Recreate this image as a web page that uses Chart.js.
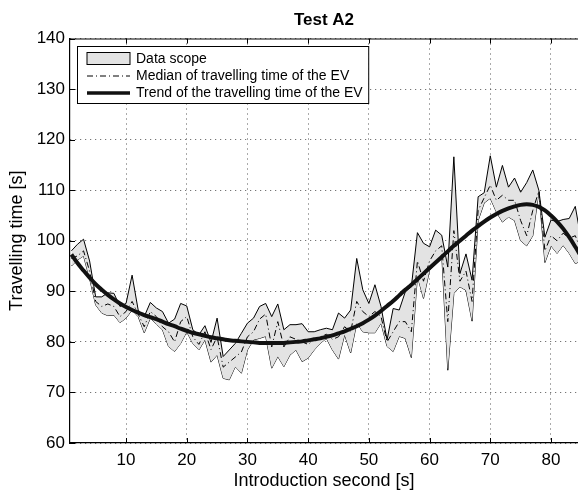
<!DOCTYPE html>
<html>
<head>
<meta charset="utf-8">
<script src="https://cdn.jsdelivr.net/npm/chart.js@4/dist/chart.umd.min.js"></script>
<style>
  html, body { margin: 0; padding: 0; background: #fff; overflow: hidden; }
  #wrap { width: 578px; height: 493px; position: relative; }
</style>
</head>
<body>
<div id="wrap"><canvas id="chartA2"></canvas></div>
<script>
// introduction second [s]
const segundos = [1, 2, 3, 4, 5, 6, 7, 8, 9, 10, 11, 12, 13, 14, 15, 16, 17, 18, 19, 20,
  21, 22, 23, 24, 25, 26, 27, 28, 29, 30, 31, 32, 33, 34, 35, 36, 37, 38, 39, 40,
  41, 42, 43, 44, 45, 46, 47, 48, 49, 50, 51, 52, 53, 54, 55, 56, 57, 58, 59, 60,
  61, 62, 63, 64, 65, 66, 67, 68, 69, 70, 71, 72, 73, 74, 75, 76, 77, 78, 79, 80,
  81, 82, 83, 84, 85];

// upper edge of data scope
const maximo = [98.0, 99.3, 100.3, 96.0, 88.9, 88.9, 89.7, 89.6, 87.0, 87.6,
  93.2, 86.3, 85.0, 87.8, 86.7, 86.0, 83.7, 84.5, 87.6, 87.1,
  82.4, 81.4, 83.2, 79.9, 84.7, 77.1, 78.4, 79.7, 81.7, 83.7,
  84.7, 87.0, 87.6, 85.0, 87.5, 82.4, 83.4, 83.4, 83.6, 82.0,
  82.0, 82.4, 82.7, 82.4, 85.7, 84.7, 86.3, 96.5, 90.3, 87.6,
  91.3, 87.0, 80.4, 86.6, 86.3, 89.9, 90.9, 101.6, 99.5, 98.8,
  102.1, 101.1, 94.8, 116.6, 93.5, 97.4, 92.2, 108.7, 109.5, 116.8,
  110.6, 114.9, 110.6, 112.4, 109.6, 111.5, 114.0, 110.0, 100.7, 104.1,
  103.8, 104.2, 104.4, 106.8, 100.0];

// lower edge of data scope
const minimo = [95.0, 96.2, 97.0, 92.5, 87.3, 85.7, 85.2, 85.3, 83.8, 84.7,
  86.3, 85.0, 81.8, 84.7, 83.5, 82.4, 79.1, 78.1, 79.7, 82.0,
  79.7, 78.4, 80.4, 76.0, 77.4, 72.8, 72.5, 75.1, 73.8, 78.4,
  80.4, 80.7, 81.1, 74.8, 77.1, 75.1, 77.4, 78.4, 76.1, 76.8,
  78.4, 79.7, 80.7, 78.4, 76.6, 81.4, 77.8, 83.7, 82.0, 81.8,
  81.8, 83.7, 79.1, 78.1, 81.1, 80.7, 76.9, 93.0, 88.6, 94.2,
  95.5, 97.4, 74.4, 89.6, 90.9, 90.2, 84.1, 104.0, 107.5, 108.4,
  105.7, 103.7, 104.7, 104.0, 100.0, 99.0, 101.0, 109.7, 95.7, 99.0,
  97.5, 99.1, 97.5, 95.5, 96.0];

// median of travelling time of the EV
const mediana = [96.5, 97.0, 98.0, 94.0, 88.0, 87.0, 87.5, 87.0, 85.0, 86.0,
  88.0, 85.5, 83.0, 86.0, 85.0, 83.0, 82.0, 80.0, 84.0, 85.0,
  81.0, 79.5, 82.0, 78.5, 81.0, 75.0, 76.0, 77.0, 78.0, 81.0,
  82.0, 84.5, 85.5, 79.0, 84.0, 79.0, 81.0, 80.5, 80.0, 79.5,
  80.5, 81.0, 81.5, 80.5, 81.0, 83.0, 82.0, 88.0, 86.0, 85.0,
  86.0, 85.0, 80.0, 82.0, 84.0, 84.0, 82.0, 96.0, 92.0, 96.0,
  98.0, 99.0, 84.0, 102.0, 92.0, 94.0, 88.0, 106.0, 108.5, 111.0,
  108.0, 109.0, 108.0, 108.0, 104.0, 101.0, 106.0, 109.8, 98.0, 101.0,
  100.0, 101.5, 100.5, 101.0, 98.0];

// trend of the travelling time of the EV
const tendencia = [97.3, 95.6, 94.1, 92.7, 91.4, 90.3, 89.3, 88.4, 87.6, 86.9,
  86.3, 85.8, 85.3, 84.9, 84.5, 84.0, 83.5, 83.1, 82.6, 82.2,
  81.8, 81.5, 81.2, 80.9, 80.7, 80.5, 80.3, 80.2, 80.1, 80.0,
  79.9, 79.8, 79.8, 79.8, 79.8, 79.8, 79.9, 80.0, 80.1, 80.3,
  80.5, 80.7, 81.0, 81.3, 81.7, 82.1, 82.6, 83.1, 83.7, 84.4,
  85.2, 86.1, 87.1, 88.1, 89.2, 90.3, 91.3, 92.4, 93.5, 94.6,
  95.7, 96.8, 97.9, 99.0, 100.0, 101.0, 102.0, 102.9, 103.8, 104.6,
  105.3, 105.9, 106.4, 106.8, 107.1, 107.2, 107.1, 106.7, 106.0, 105.0,
  103.8, 102.4, 100.7, 98.8, 96.8];

const ticksX = [10, 20, 30, 40, 50, 60, 70, 80];

const FUENTE = '"Liberation Sans", Arial, Helvetica, sans-serif';

const puntos = serie => serie.map((v, i) => ({ x: segundos[i], y: v }));

// marco, ticks internos, titulos y leyenda
const decoraciones = {
    id: 'decoraciones',
    beforeDatasetsDraw(chart) {
        const { ctx, chartArea: a } = chart;
        ctx.save();
        ctx.strokeStyle = '#000';
        ctx.lineWidth = 1;
        ctx.beginPath();
        ctx.moveTo(a.left, a.top + 0.5);
        ctx.lineTo(a.right, a.top + 0.5);
        ctx.stroke();
        // inner ticks
        const sx = chart.scales.x, sy = chart.scales.y;
        ctx.beginPath();
        ticksX.forEach(t => {
            const px = Math.round(sx.getPixelForValue(t)) + 0.5;
            ctx.moveTo(px, a.bottom); ctx.lineTo(px, a.bottom - 5);
            ctx.moveTo(px, a.top); ctx.lineTo(px, a.top + 5);
        });
        sy.ticks.forEach(t => {
            const py = Math.round(sy.getPixelForValue(t.value)) + 0.5;
            ctx.moveTo(a.left, py); ctx.lineTo(a.left + 5, py);
        });
        ctx.stroke();
        ctx.restore();
    },
    afterDraw(chart) {
        const { ctx, chartArea: a } = chart;
        const cx = (a.left + a.right) / 2;
        ctx.save();
        ctx.fillStyle = '#000';
        ctx.textAlign = 'center';
        ctx.textBaseline = 'middle';
        ctx.font = 'bold 17px ' + FUENTE;
        ctx.fillText('Test A2', cx, 20);
        ctx.font = '18px ' + FUENTE;
        ctx.fillText('Introduction second [s]', cx, 481);
        ctx.translate(17, (a.top + a.bottom) / 2);
        ctx.rotate(-Math.PI / 2);
        ctx.fillText('Travelling time [s]', 0, 0);
        ctx.restore();

        // leyenda
        const etiquetas = ['Data scope', 'Median of travelling time of the EV', 'Trend of the travelling time of the EV'];
        ctx.save();
        ctx.font = '14px ' + FUENTE;
        const anchoTexto = Math.max(...etiquetas.map(t => ctx.measureText(t).width));
        const bx = 77.5, by = 46.5, bh = 57;
        const bw = 136 - bx + anchoTexto + 6;
        ctx.fillStyle = '#fff';
        ctx.fillRect(bx, by, bw, bh);
        ctx.strokeStyle = '#000';
        ctx.lineWidth = 1;
        ctx.strokeRect(bx, by, bw, bh);

        const filas = [59, 76, 93];
        // caja gris
        ctx.fillStyle = '#e3e3e3';
        ctx.fillRect(87, 52.5, 43, 12);
        ctx.strokeRect(87, 52.5, 43, 12);
        // dash-dot
        ctx.beginPath();
        ctx.setLineDash([6, 3, 1, 3]);
        ctx.moveTo(87, filas[1]); ctx.lineTo(130, filas[1]);
        ctx.stroke();
        ctx.setLineDash([]);
        // linea gruesa
        ctx.beginPath();
        ctx.lineWidth = 3.5;
        ctx.strokeStyle = '#111';
        ctx.moveTo(87, filas[2]); ctx.lineTo(130, filas[2]);
        ctx.stroke();

        ctx.fillStyle = '#000';
        ctx.textAlign = 'left';
        ctx.textBaseline = 'middle';
        etiquetas.forEach((t, i) => ctx.fillText(t, 136, filas[i]));
        ctx.restore();
    }
};

document.addEventListener('DOMContentLoaded', () => {
    const ctx = document.getElementById('chartA2').getContext('2d');

    new Chart(ctx, {
        type: 'line',
        data: {
            datasets: [
                {
                    label: 'Trend of the travelling time of the EV',
                    data: puntos(tendencia),
                    borderColor: '#111',
                    borderWidth: 4,
                    pointRadius: 0,
                    tension: 0.4,
                    fill: false,
                    order: 0
                },
                {
                    label: 'Median of travelling time of the EV',
                    data: puntos(mediana),
                    borderColor: '#000',
                    borderWidth: 1,
                    borderDash: [6, 3, 1, 3],
                    pointRadius: 0,
                    tension: 0,
                    fill: false,
                    order: 1
                },
                {
                    label: 'Data scope',
                    data: puntos(maximo),
                    borderColor: '#000',
                    borderWidth: 1,
                    backgroundColor: '#e3e3e3',
                    pointRadius: 0,
                    tension: 0,
                    fill: '+1',
                    order: 2
                },
                {
                    label: 'Data scope (min)',
                    data: puntos(minimo),
                    borderColor: '#000',
                    borderWidth: 1,
                    pointRadius: 0,
                    tension: 0,
                    fill: false,
                    order: 3
                }
            ]
        },
        options: {
            responsive: true,
            maintainAspectRatio: false,
            animation: false,
            layout: { padding: { top: 38.5, right: 0, left: 0, bottom: 0 } },
            plugins: {
                legend: { display: false },
                tooltip: { enabled: false },
                title: { display: false }
            },
            scales: {
                x: {
                    type: 'linear',
                    min: 0.77,
                    max: 84.45,
                    afterFit: s => { s.height = 50; },
                    afterBuildTicks: s => { s.ticks = ticksX.map(v => ({ value: v })); },
                    grid: { color: '#555', lineWidth: 1, drawTicks: false },
                    border: { display: true, color: '#000', width: 1.2, dash: [1, 4] },
                    ticks: {
                        padding: 7,
                        color: '#000',
                        font: { family: FUENTE, size: 17 },
                        maxRotation: 0
                    }
                },
                y: {
                    min: 60,
                    max: 140,
                    afterFit: s => { s.width = 70; },
                    grid: { color: '#555', lineWidth: 1, drawTicks: false },
                    border: { display: true, color: '#000', width: 1.2, dash: [1, 4] },
                    ticks: {
                        stepSize: 10,
                        padding: 5,
                        color: '#000',
                        font: { family: FUENTE, size: 17 }
                    }
                }
            }
        },
        plugins: [decoraciones]
    });
});
</script>
</body>
</html>
